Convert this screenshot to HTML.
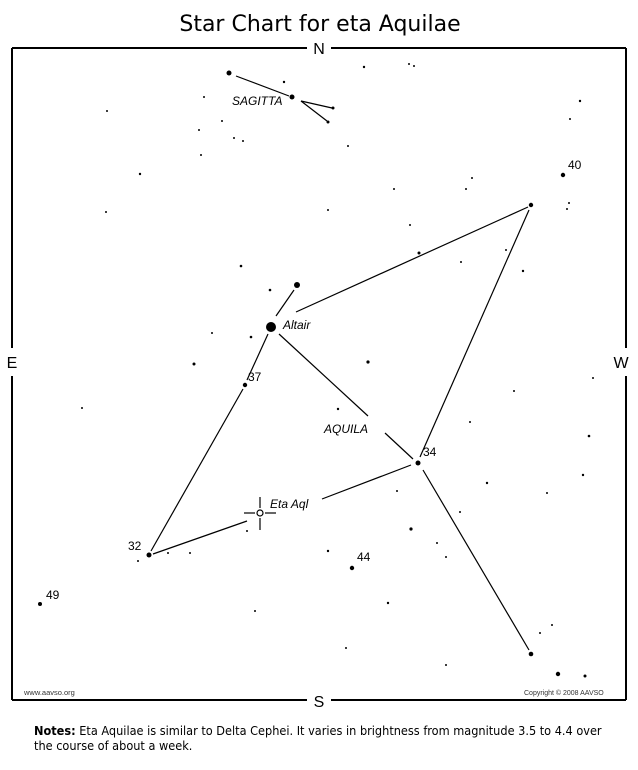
<!DOCTYPE html>
<html><head><meta charset="utf-8"><style>
html,body{margin:0;padding:0;background:#fff;width:638px;height:770px;overflow:hidden}
svg{display:block}
</style></head><body>
<svg width="638" height="770" xmlns="http://www.w3.org/2000/svg" font-family="Liberation Sans, Arial, sans-serif">
<text x="320" y="31" text-anchor="middle" font-size="22" font-family="DejaVu Sans, Liberation Sans, sans-serif" fill="#000">Star Chart for eta Aquilae</text>
<g stroke="#000" stroke-width="2" fill="none">
<line x1="12" y1="48" x2="307" y2="48"/><line x1="331" y1="48" x2="626" y2="48"/>
<line x1="12" y1="700" x2="307" y2="700"/><line x1="331" y1="700" x2="626" y2="700"/>
<line x1="12" y1="48" x2="12" y2="348"/><line x1="12" y1="376" x2="12" y2="700"/>
<line x1="626" y1="48" x2="626" y2="348"/><line x1="626" y1="376" x2="626" y2="700"/>
</g>
<g font-size="16" fill="#000" text-anchor="middle">
<text x="319" y="54">N</text><text x="319" y="707">S</text>
<text x="12" y="368">E</text><text x="621" y="368">W</text>
</g>
<g stroke="#000" stroke-width="1.2" fill="none">
<line x1="236" y1="76" x2="289" y2="96"/>
<line x1="301" y1="101" x2="332" y2="108"/><line x1="301" y1="101" x2="327" y2="121"/>
<line x1="276" y1="316" x2="294" y2="290"/>
<line x1="296" y1="312" x2="528" y2="207"/>
<line x1="279" y1="334" x2="368" y2="416"/><line x1="385" y1="433" x2="413" y2="459"/>
<line x1="268" y1="334" x2="247" y2="380"/>
<line x1="243" y1="389" x2="151" y2="551"/>
<line x1="153" y1="554" x2="247" y2="521"/>
<line x1="322" y1="499" x2="411" y2="465"/>
<line x1="420" y1="457" x2="529" y2="210"/>
<line x1="423" y1="470" x2="529" y2="650"/>
<line x1="260" y1="497" x2="260" y2="508"/><line x1="260" y1="518" x2="260" y2="530"/>
<line x1="244" y1="513" x2="255" y2="513"/><line x1="265" y1="513" x2="276" y2="513"/>
<circle cx="260" cy="513" r="3"/>
</g>
<g fill="#000">
<circle cx="229" cy="73" r="2.5"/><circle cx="284" cy="82" r="1.2"/><circle cx="292" cy="97" r="2.5"/>
<circle cx="333" cy="108" r="1.5"/><circle cx="328" cy="122" r="1.5"/><circle cx="364" cy="67" r="1.2"/>
<circle cx="409" cy="64" r="1"/><circle cx="414" cy="66" r="1"/><circle cx="204" cy="97" r="1"/>
<circle cx="107" cy="111" r="1"/><circle cx="222" cy="121" r="1"/><circle cx="199" cy="130" r="1"/>
<circle cx="234" cy="138" r="1"/><circle cx="243" cy="141" r="1"/><circle cx="348" cy="146" r="1"/>
<circle cx="201" cy="155" r="1"/><circle cx="140" cy="174" r="1.2"/><circle cx="580" cy="101" r="1.2"/>
<circle cx="570" cy="119" r="1"/><circle cx="563" cy="175" r="2.2"/><circle cx="394" cy="189" r="1"/>
<circle cx="466" cy="189" r="1"/><circle cx="472" cy="178" r="1"/><circle cx="531" cy="205" r="2.2"/>
<circle cx="569" cy="203" r="1"/><circle cx="567" cy="209" r="1"/><circle cx="106" cy="212" r="1"/>
<circle cx="328" cy="210" r="1"/><circle cx="410" cy="225" r="1"/><circle cx="419" cy="253" r="1.5"/>
<circle cx="241" cy="266" r="1.3"/><circle cx="461" cy="262" r="1"/><circle cx="523" cy="271" r="1.2"/>
<circle cx="506" cy="250" r="1"/><circle cx="297" cy="285" r="3"/><circle cx="270" cy="290" r="1.3"/>
<circle cx="212" cy="333" r="1"/><circle cx="271" cy="327" r="5"/><circle cx="251" cy="337" r="1.3"/>
<circle cx="368" cy="362" r="1.6"/><circle cx="194" cy="364" r="1.5"/><circle cx="593" cy="378" r="1"/>
<circle cx="245" cy="385" r="2.2"/><circle cx="514" cy="391" r="1"/><circle cx="82" cy="408" r="1"/>
<circle cx="338" cy="409" r="1.2"/><circle cx="470" cy="422" r="1"/><circle cx="589" cy="436" r="1.3"/>
<circle cx="418" cy="463" r="2.5"/><circle cx="397" cy="491" r="1"/><circle cx="487" cy="483" r="1.2"/>
<circle cx="583" cy="475" r="1.2"/><circle cx="547" cy="493" r="1"/><circle cx="460" cy="512" r="1"/>
<circle cx="411" cy="529" r="1.6"/><circle cx="437" cy="543" r="1"/><circle cx="247" cy="531" r="1"/>
<circle cx="149" cy="555" r="2.5"/><circle cx="138" cy="561" r="1"/><circle cx="168" cy="553" r="1"/>
<circle cx="190" cy="553" r="1"/><circle cx="328" cy="551" r="1.2"/><circle cx="352" cy="568" r="2.2"/>
<circle cx="446" cy="557" r="1"/><circle cx="40" cy="604" r="2"/><circle cx="388" cy="603" r="1.2"/>
<circle cx="255" cy="611" r="1"/><circle cx="346" cy="648" r="1"/><circle cx="531" cy="654" r="2.3"/>
<circle cx="540" cy="633" r="1"/><circle cx="552" cy="625" r="1"/><circle cx="446" cy="665" r="1"/>
<circle cx="558" cy="674" r="2.2"/><circle cx="585" cy="676" r="1.5"/>
</g>
<g font-size="12" fill="#000">
<text x="232" y="105" font-style="italic">SAGITTA</text>
<text x="283" y="329" font-style="italic">Altair</text>
<text x="248" y="381">37</text>
<text x="568" y="169">40</text>
<text x="324" y="433" font-style="italic">AQUILA</text>
<text x="423" y="456">34</text>
<text x="270" y="508" font-style="italic">Eta Aql</text>
<text x="128" y="550">32</text>
<text x="357" y="561">44</text>
<text x="46" y="599">49</text>
</g>
<text x="24" y="695" font-size="7.5" fill="#333">www.aavso.org</text>
<text x="524" y="695" font-size="7" fill="#333">Copyright © 2008 AAVSO</text>
<text x="34" y="735" font-size="12.6" font-family="DejaVu Sans Condensed, Liberation Sans Narrow, Liberation Sans, sans-serif" fill="#000"><tspan font-weight="bold">Notes:</tspan> Eta Aquilae is similar to Delta Cephei. It varies in brightness from magnitude 3.5 to 4.4 over</text>
<text x="34" y="750" font-size="12.6" font-family="DejaVu Sans Condensed, Liberation Sans Narrow, Liberation Sans, sans-serif" fill="#000">the course of about a week.</text>
</svg>
</body></html>
